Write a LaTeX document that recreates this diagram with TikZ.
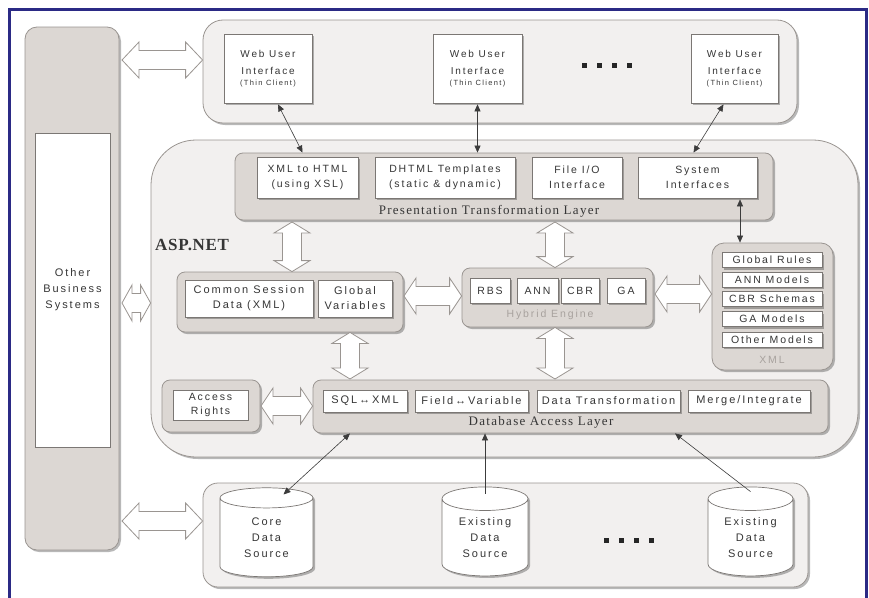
\documentclass[tikz,border=0pt]{standalone}
\usepackage{fontspec}
\setmainfont{Liberation Sans}[LetterSpace=18]
\newfontfamily\serf{Liberation Serif}[LetterSpace=10]
\newfontfamily\serfb{Liberation Serif}[LetterSpace=4]
\usetikzlibrary{shapes.geometric,shadows,arrows.meta,calc}
\definecolor{frameblue}{HTML}{2B2A85}
\definecolor{edge}{HTML}{9A9591}
\definecolor{lightfill}{HTML}{F2F0EF}
\definecolor{midfill}{HTML}{DCD7D3}
\definecolor{txt}{HTML}{363636}
\definecolor{faint}{HTML}{A8A29E}
\definecolor{conn}{HTML}{3C3C3C}
\newcommand\hblk[3][12]{%
 \draw[blk] (#2) -- ++(#1,-18) -- ++(0,8.5) -- ($(#3)+(-#1,-9.5)$) -- ++(0,-8.5) -- (#3)
  -- ++(-#1,18) -- ++(0,-8.5) -- ($(#2)+(#1,9.5)$) -- ++(0,8.5) -- cycle;}
\newcommand\vblk[3][12]{%
 \draw[blk] (#2) -- ++(-18,#1) -- ++(8.5,0) -- ($(#3)+(-9.5,-#1)$) -- ++(-8.5,0) -- (#3)
  -- ++(18,-#1) -- ++(-8.5,0) -- ($(#2)+(9.5,#1)$) -- ++(8.5,0) -- cycle;}
\newcommand\webui{Web User\\[4pt]Interface\\[-2pt]\fontsize{7.5}{9}\selectfont(Thin Client)}
\begin{document}
\begin{tikzpicture}[x=1pt,y=-1pt,
 shad/.style={drop shadow={shadow xshift=2pt,shadow yshift=-2pt,fill=black,opacity=.28}},
 cont/.style={draw=edge, fill=lightfill, line width=0.8pt, rounded corners=#1, shad, inner sep=0pt},
 cont/.default=15,
 layer/.style={draw=edge, fill=midfill, line width=0.8pt, rounded corners=8, shad, inner sep=0pt},
 wboxns/.style={draw=edge!80!black, fill=white, line width=0.7pt, inner sep=0pt, align=center, text=txt,
   font=\fontsize{10.5}{15}\selectfont},
 wbox/.style={wboxns, shad},
 cyl/.style={cylinder, shape border rotate=90, shape aspect=0.45, draw=edge!80!black, fill=white,
   line width=0.7pt, shad, align=center, text=txt, inner sep=0pt, font=\fontsize{11}{16}\selectfont},
 dot/.style={rectangle, fill=black!85, minimum size=5, inner sep=0pt},
 lbl/.style={font=\serf\fontsize{13}{15}\selectfont, text=txt, inner sep=0pt},
 faintlbl/.style={font=\fontsize{10.5}{12}\selectfont, text=faint, inner sep=0pt},
 blk/.style={draw=edge, fill=white, line width=0.8pt, line join=miter},
 conn/.style={draw=conn, line width=0.6pt, >={Triangle[length=7pt,width=6pt]}}]
\fill[white] (0,0) rectangle (869,597);
\useasboundingbox (0,0) rectangle (869,597);
\draw[frameblue, line width=3pt] (9.5,600) -- (9.5,9.5) -- (866.5,9.5) -- (866.5,600);

% left column
\node[layer, rounded corners=12, minimum width=94, minimum height=523] (col) at (72,288.5) {};
\node[wboxns, minimum width=75, minimum height=314, font=\fontsize{11}{16}\selectfont] (obs) at (72.5,290) {Other\\Business\\Systems};

% web user interfaces
\node[cont=20, minimum width=594, minimum height=103] (web) at (500,71.5) {};
\node[wbox, minimum width=88, minimum height=69, font=\fontsize{10}{13}\selectfont] (w1) at (268,68.5) {\webui};
\node[wbox, minimum width=89, minimum height=69, font=\fontsize{10}{13}\selectfont] (w2) at (477.5,68.5) {\webui};
\node[wbox, minimum width=87, minimum height=69, font=\fontsize{10}{13}\selectfont] (w3) at (734.5,68.5) {\webui};
\node[dot] (td1) at (584,65) {};
\node[dot] (td2) at (599,65) {};
\node[dot] (td3) at (614,65) {};
\node[dot] (td4) at (629,65) {};

% ASP.NET
\node[cont=45, minimum width=707, minimum height=317] (asp) at (504.5,298.5) {};
\node[anchor=west, font=\serfb\bfseries\fontsize{17}{20}\selectfont, text=txt, inner sep=0pt] (asplbl) at (155,245) {ASP.NET};

% presentation layer
\node[layer, minimum width=538, minimum height=67] (ptl) at (504,186.5) {};
\node[wbox, minimum width=101, minimum height=41] (x2h) at (307.5,177.5) {XML to HTML\\(using XSL)};
\node[wbox, minimum width=140, minimum height=41] (dhtml) at (445,177.5) {DHTML Templates\\(static \& dynamic)};
\node[wbox, minimum width=90, minimum height=41] (fio) at (577,177.5) {File I/O\\Interface};
\node[wbox, minimum width=119, minimum height=41] (sysi) at (697.5,177.5) {System\\Interfaces};
\node[lbl] (ptllbl) at (489,211.5) {Presentation Transformation Layer};

% common session
\node[layer, minimum width=226, minimum height=60] (cs) at (290,302) {};
\node[wbox, minimum width=128, minimum height=37, font=\fontsize{11}{15}\selectfont] (csd) at (249,298.5) {Common Session\\Data (XML)};
\node[wbox, minimum width=74, minimum height=37, font=\fontsize{11}{15}\selectfont] (gv) at (355,298.5) {Global\\Variables};

% hybrid engine
\node[layer, minimum width=191, minimum height=59] (hyb) at (557.5,297.5) {};
\node[wbox, minimum width=40, minimum height=25] (rbs) at (490,290.5) {RBS};
\node[wbox, minimum width=41, minimum height=25] (ann) at (537.5,290.5) {ANN};
\node[wbox, minimum width=38, minimum height=25] (cbr) at (580,290.5) {CBR};
\node[wbox, minimum width=38, minimum height=25] (ga) at (626,290.5) {GA};
\node[faintlbl] (hyblbl) at (550,315) {Hybrid Engine};

% XML models
\node[layer, rounded corners=12, minimum width=121, minimum height=127] (xml) at (772.5,306.5) {};
\node[wbox, minimum width=100, minimum height=15] (gr) at (772,260) {Global Rules};
\node[wbox, minimum width=100, minimum height=15] (annm) at (772,279.5) {ANN Models};
\node[wbox, minimum width=100, minimum height=15] (cbrs) at (772,299) {CBR Schemas};
\node[wbox, minimum width=100, minimum height=15] (gam) at (772,319) {GA Models};
\node[wbox, minimum width=100, minimum height=15] (oth) at (772,339.5) {Other Models};
\node[faintlbl] (xmllbl) at (772,360) {XML};

% database access layer
\node[layer, minimum width=515, minimum height=53] (dal) at (570.5,406.5) {};
\node[wbox, minimum width=84, minimum height=22, font=\fontsize{11}{13}\selectfont] (sqx) at (365,401) {SQL↔XML};
\node[wbox, minimum width=113, minimum height=22, font=\fontsize{11}{13}\selectfont] (fv) at (471.5,401) {Field↔Variable};
\node[wbox, minimum width=143, minimum height=22, font=\fontsize{11}{13}\selectfont] (dt) at (608.5,401) {Data Transformation};
\node[wbox, minimum width=122, minimum height=22, font=\fontsize{11}{13}\selectfont] (mi) at (749,401) {Merge/Integrate};
\node[lbl] (dallbl) at (541,422) {Database Access Layer};

% access rights
\node[layer, minimum width=98, minimum height=52] (acc) at (211,406) {};
\node[wboxns, minimum width=75, minimum height=30, font=\fontsize{10.5}{14}\selectfont] (accr) at (210.5,405) {Access\\Rights};

% data sources
\node[cont=15, minimum width=605, minimum height=104] (ds) at (505.5,535) {};
\node[cyl, minimum width=93, minimum height=89] (core) at (266.5,537.5) {Core\\Data\\Source};
\node[cyl, minimum width=86, minimum height=89] (ex1) at (485,537.5) {Existing\\Data\\Source};
\node[cyl, minimum width=85, minimum height=89] (ex2) at (750.5,537.5) {Existing\\Data\\Source};
\node[dot] (bd1) at (606,540) {};
\node[dot] (bd2) at (621.5,540) {};
\node[dot] (bd3) at (636.5,540) {};
\node[dot] (bd4) at (651,540) {};

% block arrows
\coordinate (b1a) at (122,60);   \coordinate (b1b) at (web.west |- b1a);
\coordinate (b2a) at (122,303);  \coordinate (b2b) at (asp.west |- b2a);
\coordinate (b3a) at (122,521);  \coordinate (b3b) at (ds.west |- b3a);
\hblk[17]{b1a}{b1b}
\hblk[10]{b2a}{b2b}
\hblk[17]{b3a}{b3b}
\coordinate (v1a) at (292,222);  \coordinate (v1b) at (cs.north -| v1a);
\coordinate (v2a) at (555,222);  \coordinate (v2b) at (hyb.north -| v2a);
\coordinate (v3b) at (350,379);  \coordinate (v3a) at (cs.south -| v3b);
\coordinate (v4b) at (555,379);  \coordinate (v4a) at (hyb.south -| v4b);
\vblk[11]{v1a}{v1b}
\vblk[11]{v2a}{v2b}
\vblk[11]{v3a}{v3b}
\vblk[11]{v4a}{v4b}
\coordinate (h1a) at (404,296);  \coordinate (h1b) at (hyb.west |- h1a);
\coordinate (h2a) at (655,294);  \coordinate (h2b) at (xml.west |- h2a);
\coordinate (h3a) at (261,406);  \coordinate (h3b) at (dal.west |- h3a);
\hblk[12]{h1a}{h1b}
\hblk[12]{h2a}{h2b}
\hblk[12]{h3a}{h3b}

% thin connectors
\draw[conn,<->] ($(w1.south)+(10,1)$) -- ($(ptl.north -| x2h.north)+(-5,0)$);
\draw[conn,<->] ($(w2.south)+(0,1)$) -- (ptl.north -| w2.south);
\draw[conn,<->] ($(w3.south)+(-11,1)$) -- ($(ptl.north -| sysi.north)+(-4,0)$);
\draw[conn,<->] ($(sysi.south)+(42.5,1)$) -- ($(xml.north)+(-32.5,0)$);
\draw[conn,<->] ($(core.north)+(17,7)$) -- ($(dal.south -| sqx.south)+(-15,0)$);
\draw[conn,->] ($(ex1.north)+(0,7)$) -- (dal.south -| ex1.north);
\draw[conn,->] ($(ex2.north)+(0,5)$) -- ($(dal.south -| mi.south)+(-74,0)$);
\end{tikzpicture}
\end{document}
